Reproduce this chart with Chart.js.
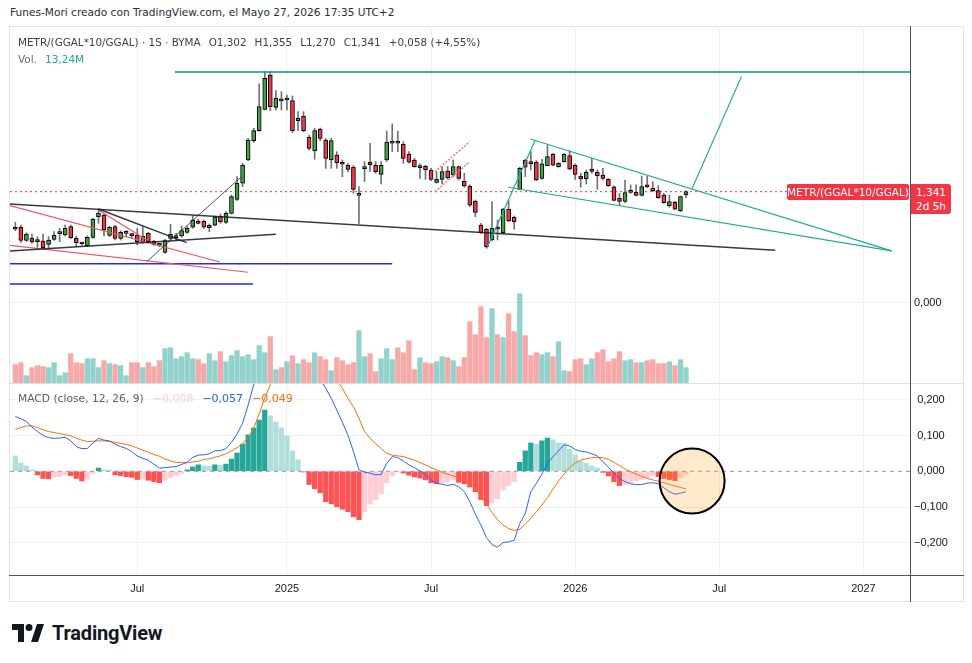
<!DOCTYPE html>
<html>
<head>
<meta charset="utf-8">
<script src="https://cdn.jsdelivr.net/npm/chart.js@4.4.1/dist/chart.umd.min.js"></script>
<style>
  body { margin: 0; background: #fff; width: 972px; height: 663px; position: relative; overflow: hidden;
         font-family: "DejaVu Sans", sans-serif; color: #131722; }
  .abs { position: absolute; }
  #hdr { left: 10px; top: 6px; font-size: 10.6px; color: #2a2e39; white-space: nowrap; }
  #legend { left: 18px; top: 36px; font-size: 10.4px; color: #3b3f4a; white-space: nowrap; }
  #legend span { margin-left: 8px; }
  #vol { left: 18px; top: 53px; font-size: 10.5px; color: #6a6d78; white-space: nowrap; }
  #vol b { font-weight: normal; color: #22ab94; margin-left: 8px; }
  #macdLegend { left: 18px; top: 392px; font-size: 10.7px; color: #5d606b; white-space: nowrap; z-index: 3; }
  #macdLegend span { margin-left: 9px; font-size: 11px; }
  .frame { left: 9px; top: 26px; width: 955px; height: 576px; border: 1px solid #e0e3eb; box-sizing: border-box; }
  .line { height: 1px; }
  #nameTag { left: 787px; top: 184px; width: 122px; height: 16px; background: #f23645; color: #fff; font-size: 10.5px;
             line-height: 16px; text-align: center; border-radius: 2px; z-index: 4; }
  #priceTag { left: 911px; top: 184px; width: 40px; height: 30px; background: #f23645; color: #fff; font-size: 10.5px;
              line-height: 14px; text-align: center; border-radius: 0 3px 3px 0; padding-top: 1px; box-sizing: border-box; z-index: 4; }
  #logo { left: 12px; top: 621px; display: flex; align-items: center; font-family: Roboto, sans-serif; font-weight: 700;
          font-size: 20px; color: #131722; letter-spacing: -0.2px; }
  #logo svg { margin-right: 8px; }
  canvas { position: absolute; }
</style>
</head>
<body>
<div id="hdr" class="abs">Funes-Mori creado con TradingView.com, el Mayo 27, 2026 17:35 UTC+2</div>

<div class="abs frame"></div>
<canvas id="priceChart" width="946" height="357" style="left:10px;top:26px"></canvas>
<canvas id="macdChart" width="946" height="218" style="left:10px;top:383px"></canvas>
<div class="abs line" style="left:9px;top:383px;width:955px;background:#dcdfe5"></div>
<div class="abs line" style="left:9px;top:575px;width:955px;background:#50535e"></div>
<div class="abs" style="left:910px;top:26px;width:1px;height:576px;background:#50535e"></div>

<div id="legend" class="abs">METR/(GGAL*10/GGAL) · 1S · BYMA<span>O1,302</span><span>H1,355</span><span>L1,270</span><span>C1,341</span><span>+0,058 (+4,55%)</span></div>
<div id="vol" class="abs">Vol.<b>13,24M</b></div>
<div id="macdLegend" class="abs">MACD (close, 12, 26, 9)<span style="color:#ffcdd2">−0,008</span><span style="color:#2962ff">−0,057</span><span style="color:#ff6d00">−0,049</span></div>
<div id="nameTag" class="abs">METR/(GGAL*10/GGAL)</div>
<div id="priceTag" class="abs">1,341<br>2d 5h</div>

<div id="logo" class="abs">
  <svg width="32" height="18" viewBox="0 0 32 18"><path d="M0 0H12V18H6V6H0Z" fill="#131722"/><circle cx="17" cy="3.5" r="3.5" fill="#131722"/><path d="M19 18L25 0H32L26 18Z" fill="#131722"/></svg>
  TradingView
</div>

<script>
// weekly bars, index 0 = first visible week, 121 = week of May 25 2026
const opens = [
  0.892, 0.912, 0.755, 0.779, 0.743, 0.747, 0.707, 0.767, 0.835, 0.819,
  0.920, 0.779, 0.715, 0.691, 0.791, 1.040, 1.060, 0.815, 0.920, 0.779,
  0.839, 0.815, 0.819, 0.739, 0.839, 0.743, 0.697, 0.610, 0.779, 0.787,
  0.807, 0.851, 0.912, 0.984, 0.984, 0.908, 0.936, 1.040, 0.972, 1.080,
  1.249, 1.442, 1.723, 1.956, 2.076, 2.333, 2.747, 2.357, 2.446, 2.446,
  2.438, 2.197, 2.253, 1.996, 1.831, 2.096, 1.964, 1.723, 1.783, 1.695,
  1.659, 1.635, 1.297, 1.618, 1.695, 1.659, 1.550, 1.723, 1.924, 1.932,
  1.912, 1.791, 1.723, 1.631, 1.647, 1.602, 1.454, 1.490, 1.590, 1.542,
  1.643, 1.466, 1.406, 1.225, 0.940, 0.888, 0.759, 0.896, 0.847, 1.129,
  1.032, 1.369, 1.723, 1.687, 1.695, 1.502, 1.655, 1.791, 1.643, 1.703,
  1.775, 1.659, 1.530, 1.494, 1.586, 1.574, 1.542, 1.490, 1.398, 1.261,
  1.225, 1.333, 1.333, 1.297, 1.406, 1.382, 1.353, 1.301, 1.169, 1.213,
  1.108, 1.302];
const highs = [
  0.972, 0.940, 0.847, 0.831, 0.799, 0.831, 0.799, 0.859, 0.900, 0.940,
  0.940, 0.807, 0.727, 0.807, 1.020, 1.120, 1.072, 0.928, 0.936, 0.871,
  0.871, 0.839, 0.900, 0.920, 0.851, 0.755, 0.711, 0.767, 0.948, 0.839,
  0.928, 0.920, 1.048, 1.008, 1.000, 0.952, 1.048, 1.072, 1.100, 1.301,
  1.522, 1.683, 1.984, 2.104, 2.639, 2.787, 2.787, 2.558, 2.546, 2.506,
  2.494, 2.305, 2.305, 2.024, 2.104, 2.108, 1.984, 1.984, 1.823, 1.723,
  1.683, 1.659, 1.402, 1.703, 1.924, 1.703, 1.703, 2.072, 2.157, 2.072,
  1.944, 1.823, 1.743, 1.675, 1.659, 1.622, 1.582, 1.643, 1.643, 1.723,
  1.651, 1.562, 1.422, 1.241, 0.960, 0.900, 1.221, 1.000, 1.141, 1.233,
  1.048, 1.635, 1.731, 1.823, 1.715, 1.731, 1.904, 1.803, 1.691, 1.803,
  1.835, 1.675, 1.562, 1.602, 1.743, 1.602, 1.622, 1.502, 1.410, 1.321,
  1.482, 1.422, 1.422, 1.530, 1.530, 1.462, 1.414, 1.321, 1.301, 1.225,
  1.289, 1.355];
const lows = [
  0.871, 0.731, 0.739, 0.719, 0.671, 0.655, 0.655, 0.755, 0.739, 0.807,
  0.775, 0.679, 0.695, 0.679, 0.779, 0.960, 0.807, 0.799, 0.759, 0.759,
  0.799, 0.779, 0.699, 0.719, 0.719, 0.695, 0.679, 0.598, 0.759, 0.759,
  0.791, 0.839, 0.900, 0.952, 0.900, 0.859, 0.928, 0.960, 0.960, 1.072,
  1.233, 1.402, 1.715, 1.932, 2.068, 2.325, 2.317, 2.325, 2.325, 2.325,
  2.052, 2.076, 2.064, 1.843, 1.731, 1.956, 1.622, 1.622, 1.622, 1.522,
  1.582, 1.321, 0.960, 1.462, 1.582, 1.562, 1.434, 1.703, 1.823, 1.823,
  1.683, 1.683, 1.635, 1.502, 1.490, 1.474, 1.442, 1.434, 1.490, 1.522,
  1.482, 1.394, 1.161, 1.040, 0.839, 0.659, 0.751, 0.759, 0.839, 0.980,
  0.888, 1.361, 1.522, 1.602, 1.474, 1.490, 1.651, 1.651, 1.635, 1.695,
  1.602, 1.490, 1.394, 1.434, 1.562, 1.369, 1.482, 1.402, 1.229, 1.173,
  1.209, 1.321, 1.289, 1.289, 1.390, 1.341, 1.261, 1.201, 1.153, 1.120,
  1.100, 1.270];
const closes = [
  0.888, 0.755, 0.831, 0.739, 0.739, 0.667, 0.759, 0.815, 0.839, 0.900,
  0.787, 0.727, 0.711, 0.791, 1.008, 1.084, 0.880, 0.912, 0.779, 0.851,
  0.843, 0.811, 0.739, 0.807, 0.739, 0.707, 0.695, 0.751, 0.827, 0.791,
  0.871, 0.900, 0.996, 0.960, 0.912, 0.936, 1.036, 0.980, 1.080, 1.281,
  1.442, 1.659, 1.964, 2.076, 2.365, 2.707, 2.365, 2.466, 2.434, 2.450,
  2.076, 2.225, 2.076, 1.863, 2.076, 1.984, 1.743, 1.956, 1.691, 1.671,
  1.610, 1.369, 1.305, 1.627, 1.667, 1.582, 1.659, 1.940, 1.952, 1.924,
  1.743, 1.695, 1.643, 1.639, 1.602, 1.490, 1.494, 1.582, 1.510, 1.643,
  1.502, 1.410, 1.177, 1.092, 0.847, 0.679, 0.900, 0.888, 1.129, 0.988,
  0.980, 1.622, 1.635, 1.679, 1.482, 1.675, 1.763, 1.659, 1.683, 1.791,
  1.614, 1.550, 1.494, 1.574, 1.594, 1.530, 1.502, 1.414, 1.237, 1.225,
  1.329, 1.341, 1.297, 1.402, 1.398, 1.353, 1.269, 1.209, 1.221, 1.129,
  1.281, 1.341];
// volume in millions
const volumes = [
  15.9, 17.6, 6.3, 13.3, 15.0, 14.1, 13.3, 17.6, 6.3, 8.9,
  25.4, 17.6, 16.7, 21.0, 21.0, 13.3, 19.3, 16.7, 15.9, 15.0,
  6.3, 17.6, 17.6, 13.3, 17.6, 14.1, 19.3, 29.7, 30.5, 21.0,
  22.8, 26.2, 21.0, 20.2, 16.7, 25.4, 19.3, 27.1, 18.4, 23.6,
  28.0, 22.8, 24.5, 20.2, 32.3, 26.2, 40.1, 11.5, 13.3, 18.4,
  23.6, 16.7, 20.2, 17.6, 26.2, 22.8, 20.2, 10.7, 21.9, 19.3,
  15.9, 17.6, 45.2, 22.8, 25.4, 9.8, 21.0, 29.7, 20.2, 30.5,
  26.2, 36.6, 11.5, 21.9, 17.6, 16.7, 18.4, 22.8, 21.9, 19.3,
  14.1, 21.9, 53.0, 41.8, 66.0, 39.2, 64.3, 41.8, 39.2, 59.9,
  44.4, 77.2, 40.9, 23.6, 26.2, 24.5, 26.2, 22.8, 35.7, 10.7,
  9.8, 20.2, 21.0, 15.9, 21.0, 26.2, 28.8, 18.4, 21.0, 27.1,
  19.3, 20.2, 17.6, 17.6, 19.3, 20.2, 16.7, 16.7, 18.4, 15.0,
  20.2, 13.24];
const macdLine = [
  0.153, 0.147, 0.139, 0.123, 0.111, 0.100, 0.094, 0.092, 0.093, 0.095,
  0.085, 0.069, 0.063, 0.064, 0.079, 0.092, 0.087, 0.085, 0.076, 0.069,
  0.064, 0.055, 0.043, 0.036, 0.031, 0.020, 0.009, 0.010, 0.012, 0.013,
  0.019, 0.025, 0.039, 0.045, 0.046, 0.049, 0.057, 0.058, 0.063, 0.081,
  0.104, 0.134, 0.185, 0.241, 0.300, 0.370, 0.390, 0.410, 0.420, 0.420,
  0.400, 0.380, 0.350, 0.310, 0.285, 0.258, 0.232, 0.204, 0.171, 0.137,
  0.101, 0.055, 0.004, -0.003, -0.005, -0.010, -0.009, 0.022, 0.041, 0.038,
  0.029, 0.018, 0.010, 0.001, -0.010, -0.024, -0.034, -0.036, -0.040, -0.036,
  -0.043, -0.057, -0.085, -0.120, -0.150, -0.185, -0.205, -0.212, -0.199, -0.197,
  -0.193, -0.146, -0.118, -0.057, -0.034, -0.008, 0.022, 0.041, 0.057, 0.074,
  0.071, 0.061, 0.056, 0.054, 0.049, 0.043, 0.027, 0.011, -0.006, -0.020,
  -0.029, -0.035, -0.037, -0.037, -0.033, -0.032, -0.035, -0.046, -0.057, -0.064,
  -0.061, -0.057];
const signalLine = [
  0.117, 0.122, 0.127, 0.127, 0.122, 0.116, 0.111, 0.108, 0.105, 0.102,
  0.099, 0.092, 0.087, 0.083, 0.084, 0.085, 0.085, 0.083, 0.081, 0.078,
  0.075, 0.071, 0.065, 0.059, 0.053, 0.047, 0.042, 0.034, 0.029, 0.025,
  0.024, 0.024, 0.026, 0.028, 0.033, 0.035, 0.039, 0.043, 0.049, 0.057,
  0.066, 0.077, 0.095, 0.120, 0.160, 0.205, 0.242, 0.275, 0.303, 0.327,
  0.343, 0.350, 0.350, 0.343, 0.333, 0.318, 0.300, 0.280, 0.255, 0.232,
  0.204, 0.180, 0.148, 0.111, 0.092, 0.077, 0.064, 0.050, 0.045, 0.043,
  0.041, 0.036, 0.031, 0.024, 0.018, 0.010, 0.004, -0.003, -0.008, -0.013,
  -0.018, -0.024, -0.033, -0.050, -0.068, -0.092, -0.115, -0.135, -0.150, -0.160,
  -0.165, -0.162, -0.148, -0.131, -0.113, -0.094, -0.074, -0.050, -0.027, -0.008,
  0.010, 0.023, 0.031, 0.035, 0.038, 0.039, 0.038, 0.033, 0.025, 0.016,
  0.006, -0.001, -0.008, -0.014, -0.020, -0.024, -0.028, -0.032, -0.037, -0.041,
  -0.045, -0.049];
const histogram = [
  0.043, 0.023, 0.015, 0.004, -0.010, -0.020, -0.021, -0.016, -0.015, -0.010,
  -0.012, -0.020, -0.027, -0.022, -0.006, 0.009, 0.004, 0.003, -0.010, -0.012,
  -0.015, -0.017, -0.023, -0.022, -0.025, -0.029, -0.032, -0.025, -0.017, -0.012,
  -0.006, 0.004, 0.012, 0.018, 0.015, 0.014, 0.018, 0.017, 0.020, 0.034,
  0.051, 0.076, 0.102, 0.121, 0.143, 0.171, 0.155, 0.138, 0.121, 0.099,
  0.057, 0.032, -0.002, -0.037, -0.049, -0.060, -0.085, -0.091, -0.099, -0.106,
  -0.113, -0.127, -0.135, -0.113, -0.091, -0.079, -0.063, -0.032, -0.013, -0.002,
  -0.005, -0.011, -0.016, -0.019, -0.024, -0.032, -0.035, -0.032, -0.029, -0.024,
  -0.031, -0.035, -0.044, -0.057, -0.079, -0.096, -0.088, -0.077, -0.052, -0.040,
  -0.029, 0.025, 0.057, 0.079, 0.076, 0.085, 0.093, 0.088, 0.079, 0.078,
  0.062, 0.046, 0.029, 0.023, 0.015, 0.009, -0.003, -0.013, -0.029, -0.040,
  -0.037, -0.032, -0.027, -0.023, -0.018, -0.012, -0.015, -0.020, -0.023, -0.026,
  -0.018, -0.008];

const tickIdx = [22, 49, 75, 101, 127, 153];
const tickLabels = ["Jul", "2025", "Jul", "2026", "Jul", "2027"];
const macdTicks = [-0.2, -0.1, 0, 0.1, 0.2];

// drawings, as [week index, price]
const resistance = [[28.8, 2.783], [161.5, 2.783]];
const targetLine = [[122.1, 1.380], [131.0, 2.727]];
const wedgeLines = [
  [[92.9, 1.976], [158.1, 0.627]],
  [[88.9, 1.394], [158.1, 0.627]],
  [[85.1, 0.663], [93.8, 1.964]],
];
const blackLines = [
  [[-0.96, 1.193], [137.1, 0.635]],
  [[-0.96, 0.627], [47.0, 0.828]],
  [[15.0, 1.133], [30.9, 0.727]],
];
const thinBlack = [[23.7, 0.498], [40.8, 1.522]];
const redLines = [
  [[-0.96, 1.172], [36.9, 0.494]],
  [[-0.96, 0.695], [42.0, 0.370]],
  [[15.0, 1.120], [23.7, 0.759]],
];
const blueLines = [
  [[-0.96, 0.473], [68.0, 0.473]],
  [[-0.96, 0.229], [42.9, 0.229]],
];
const channel = [
  [[75.7, 1.582], [82.0, 1.943]],
  [[75.7, 1.341], [82.0, 1.702]],
];
const marker = { x: 122.1, y: -0.027 };

const X_MIN = -0.96, X_MAX = 161.41;
const GRID = "#eef0f3";
const AXIS_FONT = { family: "'Liberation Sans', Arial, sans-serif", size: 11 };

Chart.defaults.font.family = "'Liberation Sans', Arial, sans-serif";
Chart.defaults.color = "#131722";

const fmt = (v) => (v < 0 ? "\u2212" : "") + Math.abs(v).toFixed(3).replace(".", ",");
const idx = opens.map((_, i) => i);
const up = idx.map((i) => closes[i] >= opens[i]);

function seg(points, color, width, dash = [], order = 1) {
  return {
    type: "line", yAxisID: "y", order,
    data: points.map(([x, y]) => ({ x, y })),
    borderColor: color, borderWidth: width, borderDash: dash,
    pointRadius: 0, tension: 0,
  };
}

function xScale(extra) {
  return {
    type: "linear", min: X_MIN, max: X_MAX, offset: false,
    grid: { color: GRID, drawTicks: false, offset: false },
    border: { display: false },
    afterBuildTicks: (s) => { s.ticks = tickIdx.map((v) => ({ value: v })); },
    ...extra,
  };
}

const baseOptions = {
  responsive: false, animation: false, events: [],
  layout: { padding: 0, autoPadding: false },
  plugins: { legend: { display: false }, tooltip: { enabled: false } },
};

const priceSets = [
  {
    type: "bar", yAxisID: "yv", order: 8, grouped: false, barThickness: 4.6,
    data: idx.map((i) => ({ x: i, y: volumes[i] })),
    backgroundColor: idx.map((i) => up[i] ? "rgba(38,166,154,0.5)" : "rgba(239,83,80,0.5)"),
  },
  seg([[X_MIN, closes[closes.length - 1]], [X_MAX, closes[closes.length - 1]]], "#f23645", 1, [2, 3], 7),
  {
    type: "bar", yAxisID: "y", order: 6, grouped: false, barThickness: 1,
    data: idx.map((i) => ({ x: i, y: [lows[i], highs[i]] })),
    backgroundColor: "#6f727c",
  },
  {
    type: "bar", yAxisID: "y", order: 5, grouped: false, barThickness: 4, minBarLength: 2,
    data: idx.map((i) => ({ x: i, y: [opens[i], closes[i]] })),
    backgroundColor: idx.map((i) => up[i] ? "#43a047" : "#f23645"),
    borderColor: "#000", borderWidth: 1, borderSkipped: false,
  },
  seg(resistance, "#089981", 1.5),
  seg(targetLine, "#22ab94", 1.2),
  ...wedgeLines.map((l) => seg(l, "#22ab94", 1.2)),
  ...blackLines.map((l) => seg(l, "rgba(19,23,34,0.85)", 1.5)),
  seg(thinBlack, "#2a2e39", 0.8),
  ...redLines.map((l) => seg(l, "#f7525f", 1.2)),
  ...blueLines.map((l) => seg(l, "#2626f2", 1.5)),
  ...channel.map((l) => seg(l, "#f77c80", 1.5, [2, 1.5])),
];

new Chart(document.getElementById("priceChart"), {
  type: "bar",
  data: { datasets: priceSets },
  options: {
    ...baseOptions,
    scales: {
      x: xScale({
        ticks: { display: false },
        afterFit: (s) => { s.height = 0; s.paddingLeft = 0; s.paddingRight = 0; },
      }),
      y: {
        type: "linear", position: "right", min: -0.964, max: 3.337,
        grid: { color: GRID, drawTicks: false },
        border: { display: false },
        ticks: { font: AXIS_FONT, color: "#131722", padding: 4, crossAlign: "center", callback: fmt },
        afterBuildTicks: (s) => { s.ticks = [{ value: 0 }]; },
        afterFit: (s) => { s.width = 46; s.paddingTop = 0; s.paddingBottom = 0; },
      },
      yv: { type: "linear", display: false, min: 0, max: 308.6 },
    },
  },
});

const histColors = histogram.map((v, i) => {
  const prev = i > 0 ? histogram[i - 1] : v + 1;
  if (v >= 0) return v >= prev ? "#26a69a" : "#b2dfdb";
  return v < prev ? "#ff5252" : "#ffcdd2";
});

new Chart(document.getElementById("macdChart"), {
  type: "bar",
  data: {
    datasets: [
      {
        type: "bar", order: 5, grouped: false, barThickness: 4.6,
        data: idx.map((i) => ({ x: i, y: histogram[i] })),
        backgroundColor: histColors,
      },
      {
        type: "line", order: 4, data: [{ x: X_MIN, y: 0 }, { x: X_MAX, y: 0 }],
        borderColor: "#9598a1", borderWidth: 1, borderDash: [4, 4], pointRadius: 0,
      },
      {
        type: "line", order: 3, data: idx.map((i) => ({ x: i, y: signalLine[i] })),
        borderColor: "#ff6d00", borderWidth: 1, pointRadius: 0, tension: 0,
      },
      {
        type: "line", order: 2, data: idx.map((i) => ({ x: i, y: macdLine[i] })),
        borderColor: "#2962ff", borderWidth: 1, pointRadius: 0, tension: 0,
      },
      {
        type: "line", order: 1, showLine: false, data: [marker],
        pointRadius: 32.5, pointBackgroundColor: "rgba(255,152,0,0.2)",
        pointBorderColor: "#000", pointBorderWidth: 2,
      },
    ],
  },
  options: {
    ...baseOptions,
    scales: {
      x: xScale({
        position: "bottom",
        ticks: {
          autoSkip: false, maxRotation: 0, padding: 7, font: AXIS_FONT, color: "#131722",
          callback: (v) => tickLabels[tickIdx.indexOf(v)] ?? "",
        },
        afterFit: (s) => { s.height = 26; s.paddingLeft = 0; s.paddingRight = 0; },
      }),
      y: {
        type: "linear", position: "right", min: -0.2897, max: 0.2466,
        grid: { color: (c) => (c.tick && c.tick.value === 0 ? "rgba(0,0,0,0)" : GRID), drawTicks: false },
        border: { display: false },
        ticks: { font: AXIS_FONT, color: "#131722", padding: 4, crossAlign: "center", callback: fmt },
        afterBuildTicks: (s) => { s.ticks = macdTicks.map((v) => ({ value: v })); },
        afterFit: (s) => { s.width = 46; s.paddingTop = 0; s.paddingBottom = 0; },
      },
    },
  },
});
</script>
</body>
</html>
